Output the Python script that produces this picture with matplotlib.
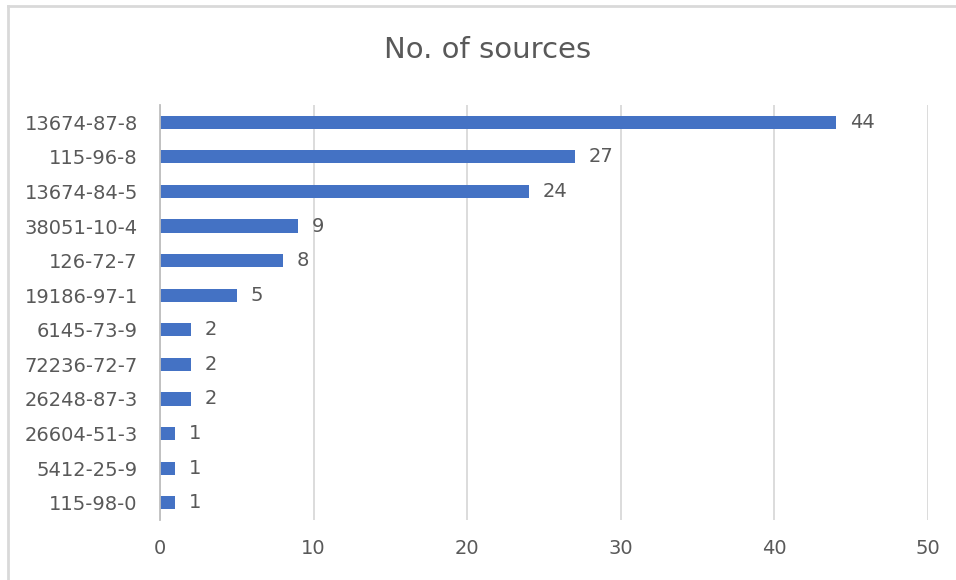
import matplotlib.pyplot as plt
from matplotlib.lines import Line2D

categories = ["13674-87-8", "115-96-8", "13674-84-5", "38051-10-4", "126-72-7",
              "19186-97-1", "6145-73-9", "72236-72-7", "26248-87-3", "26604-51-3",
              "5412-25-9", "115-98-0"]
sources = [44, 27, 24, 9, 8, 5, 2, 2, 2, 1, 1, 1]
x_ticks = [0, 10, 20, 30, 40, 50]

BAR_COLOR = "#4472C4"
TEXT_COLOR = "#595959"
GRID_COLOR = "#D9D9D9"

fig = plt.figure(figsize=(9.56, 5.8), dpi=100)
ax = fig.add_axes([160 / 956, 1 - 520 / 580, 768 / 956, 415 / 580])

ypos = list(range(len(categories)))
ax.barh(ypos, sources, height=0.38, color=BAR_COLOR, zorder=3)

for y, v in zip(ypos, sources):
    ax.annotate(str(v), (v, y), xytext=(10, 0), textcoords="offset points",
                va="center", ha="left", fontsize=14, color=TEXT_COLOR)

ax.set_xlim(0, 50)
ax.set_ylim(len(categories) - 0.5, -0.5)
ax.set_xticks(x_ticks)
ax.set_yticks(ypos)
ax.set_yticklabels(categories)
ax.tick_params(axis="both", length=0, labelsize=14, labelcolor=TEXT_COLOR)
ax.tick_params(axis="x", pad=14)
ax.tick_params(axis="y", pad=16)

ax.grid(axis="x", color=GRID_COLOR, linewidth=1.3, zorder=0)
for side in ["top", "right", "bottom"]:
    ax.spines[side].set_visible(False)
ax.spines["left"].set_color("#BFBFBF")
ax.spines["left"].set_linewidth(1.3)
ax.spines["left"].set_zorder(4)

fig.text(488 / 956, 1 - 50 / 580, "No. of sources", ha="center", va="center",
         fontsize=21, color=TEXT_COLOR)

# chart border (only left and top visible in the crop)
fig.add_artist(Line2D([8 / 956, 8 / 956], [0, 1 - 6 / 580], transform=fig.transFigure,
                      color=GRID_COLOR, linewidth=2))
fig.add_artist(Line2D([8 / 956, 1], [1 - 6 / 580, 1 - 6 / 580], transform=fig.transFigure,
                      color=GRID_COLOR, linewidth=2))

fig.savefig("out.png", dpi=100)
